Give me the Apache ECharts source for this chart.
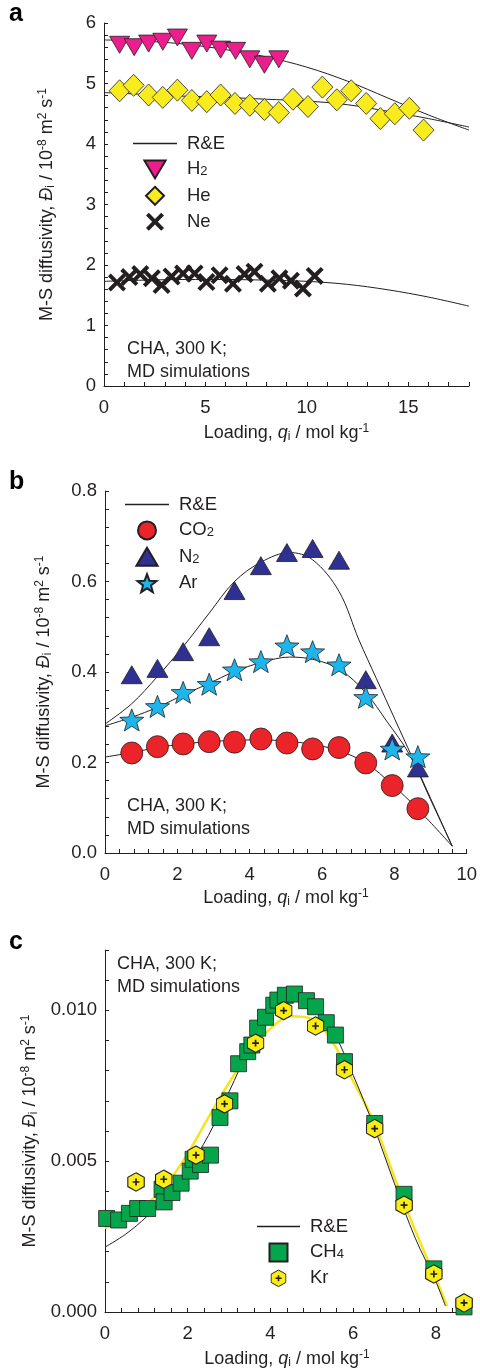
<!DOCTYPE html>
<html><head><meta charset="utf-8">
<script src="https://cdn.jsdelivr.net/npm/echarts@6/dist/echarts.min.js"></script>
<style>html,body{margin:0;padding:0;background:#fff}#c{width:480px;height:1370px}</style>
</head><body><div id="c"></div>
<script>
// ---------- Panel a data ----------
const aH2X = [0.77,1.49,2.20,2.90,3.62,4.33,5.07,5.75,6.49,7.19,7.91,8.62];
const aH2Y = [5.64,5.60,5.66,5.69,5.76,5.54,5.66,5.56,5.54,5.40,5.31,5.40];
const aHeX = [0.77,1.46,2.20,2.90,3.62,4.33,5.07,5.75,6.46,7.19,7.91,8.62,9.32,10.06,10.77,11.48,12.19,12.93,13.63,14.34,15.06,15.76];
const aHeY = [4.88,4.97,4.81,4.77,4.89,4.72,4.70,4.81,4.67,4.64,4.57,4.52,4.74,4.62,4.94,4.73,4.88,4.67,4.42,4.50,4.59,4.23];
const aNeX = [0.64,1.25,1.79,2.36,2.84,3.33,3.90,4.47,5.05,5.70,6.36,6.93,7.42,8.08,8.65,9.22,9.81,10.39];
const aNeY = [1.71,1.80,1.85,1.78,1.67,1.81,1.86,1.86,1.72,1.83,1.69,1.85,1.89,1.69,1.78,1.74,1.61,1.82];
const aFitX = [0,2,4,6,8,10,12,14,16,18];
const aFitH2 = [5.72,5.70,5.65,5.56,5.44,5.27,5.04,4.76,4.48,4.23];
const aFitHe = [4.85,4.82,4.79,4.77,4.74,4.71,4.65,4.54,4.42,4.28];
const aFitNe = [1.73,1.75,1.76,1.76,1.75,1.73,1.68,1.59,1.47,1.32];
const aXTicks = {min:0,max:18,step:1,labelStep:5,dec:0};
const aYTicks = {min:0,max:6,step:0.2,labelStep:1,dec:0};

// ---------- Panel b data ----------
const bX = [0.74,1.45,2.16,2.88,3.58,4.31,5.03,5.74,6.47,7.21,7.94,8.65];
const bCO2 = [0.221,0.235,0.241,0.246,0.245,0.252,0.243,0.230,0.233,0.199,0.149,0.098];
const bN2 = [0.394,0.408,0.445,0.478,0.580,0.635,0.664,0.673,0.647,0.383,0.243,0.188];
const bAr = [0.294,0.324,0.355,0.373,0.405,0.423,0.458,0.445,0.416,0.344,0.230,0.213];
const bFitN2X = [0,0.74,1.45,2.16,2.88,3.58,4.32,5.1,5.74,6.47,7.02,7.5,8,8.5,9,9.6];
const bFitN2Y = [0.285,0.33,0.39,0.456,0.53,0.60,0.643,0.664,0.648,0.578,0.471,0.386,0.298,0.21,0.121,0.015];
const bFitArX = [0,0.74,1.45,2.16,2.88,3.58,4.32,5.1,5.8,6.5,7.2,7.8,8.4,9.0,9.6];
const bFitArY = [0.281,0.30,0.322,0.349,0.375,0.401,0.421,0.433,0.427,0.405,0.355,0.29,0.22,0.118,0.015];
const bFitCO2X = [0,0.74,1.45,2.16,2.88,3.58,4.32,5.03,5.74,6.47,7.21,7.94,8.65,9.6];
const bFitCO2Y = [0.212,0.222,0.233,0.241,0.246,0.249,0.250,0.247,0.240,0.226,0.199,0.151,0.097,0.015];
const bXTicks = {min:0,max:10,step:0.4,labelStep:2,dec:0};
const bYTicks = {min:0,max:0.8,step:0.04,labelStep:0.2,dec:1};

// ---------- Panel c data ----------
const cCH4X = [0.04,0.33,0.59,0.79,1.03,1.38,1.43,1.62,1.84,2.06,2.13,2.31,2.55,2.78,3.02,3.23,3.45,3.55,3.69,3.88,4.08,4.18,4.36,4.58,4.87,5.09,5.35,5.57,5.79,6.52,7.23,7.95,8.68];
const cCH4Y = [0.00310,0.00305,0.00327,0.00343,0.00343,0.00407,0.00365,0.00396,0.00427,0.00467,0.00506,0.00489,0.00520,0.00645,0.00700,0.00823,0.00863,0.00885,0.00941,0.00977,0.01017,0.01034,0.01050,0.01054,0.01032,0.01012,0.00959,0.00918,0.00830,0.00625,0.00390,0.00143,0.00017];
const cKrX = [0.75,1.42,2.20,2.89,3.64,4.32,5.09,5.79,6.52,7.23,7.95,8.68];
const cKrY = [0.00431,0.00440,0.00520,0.00690,0.00891,0.00999,0.00948,0.00803,0.00608,0.00354,0.00126,0.00030];
const cFitX = [0,0.5,1,1.5,2,2.5,3,3.5,4,4.5,5,5.5,6,6.5,7,7.5,8];
const cFitCH4 = [0.00215,0.00258,0.00315,0.00385,0.00475,0.00585,0.00730,0.00875,0.00985,0.01045,0.01025,0.00935,0.00785,0.00615,0.00425,0.00245,0.00100];
const cFitKr = [0.00278,0.00308,0.00355,0.00425,0.00525,0.00645,0.00760,0.00860,0.00940,0.00980,0.00972,0.00895,0.00765,0.00630,0.00445,0.00270,0.00110];
const cFitEndX = [8.23,8.27];
const cFitEndY = [0.00020,0.00020];
const cXTicks = {min:0,max:8.8,step:0.4,labelStep:2,dec:0};
const cYTicks = {min:0,max:0.012,step:0.001,labelStep:0.005,dec:3};

// ---------- styling ----------
const ink = '#231f20';
const FF = '"Liberation Sans", Arial, Helvetica, sans-serif';
const pairs = (xs, ys) => xs.map((x, i) => [x, ys[i]]);

const crossPath = 'path://M0,2.5 L2.5,0 L8,5.5 L13.5,0 L16,2.5 L10.5,8 L16,13.5 L13.5,16 L8,10.5 L2.5,16 L0,13.5 L5.5,8 Z';
const starPath = 'path://M12,0 L14.94,7.95 L23.41,8.29 L16.76,13.55 L19.05,21.71 L12,17 L4.95,21.71 L7.24,13.55 L0.59,8.29 L9.06,7.95 Z';
const triDown = 'path://M0,0 L20,0 L10,17 Z';
const triUp = 'path://M10,0 L20,17 L0,17 Z';
const diamondPath = 'path://M10,0 L20,10 L10,20 L0,10 Z';
const circlePath = 'path://M10,0 A10,10 0 1,1 9.99,0 Z';
const squarePath = 'path://M0,0 L16,0 L16,16 L0,16 Z';
const linePath = 'path://M0,0 L44,0 L44,1.3 L0,1.3 Z';
const krSvg = "<svg xmlns='http://www.w3.org/2000/svg' width='36' height='40' viewBox='0 0 18 20'><polygon points='9,0.8 17.2,5.4 17.2,14.6 9,19.2 0.8,14.6 0.8,5.4' fill='#f9ed13' stroke='#231f20' stroke-width='1.1'/><path d='M9,6.6V13.4M5.6,10H12.4' stroke='#231f20' stroke-width='1.7'/></svg>";
const krSymbol = 'image://data:image/svg+xml;charset=utf-8,' + encodeURIComponent(krSvg);

const richName = {
  it: {fontStyle:'italic', fontSize:18, lineHeight:20, fontFamily:FF, color:ink},
  sub: {fontSize:12, lineHeight:12, verticalAlign:'bottom', fontFamily:FF, color:ink},
  sup: {fontSize:12, lineHeight:12, verticalAlign:'top', fontFamily:FF, color:ink}
};
const yName = 'M-S diffusivity, {it|Đ}{sub|i} / 10{sup|-8} m{sup|2} s{sup|-1}';
const xName = 'Loading, {it|q}{sub|i} / mol kg{sup|-1}';

function fmt(t) {
  return v => {
    const r = v / t.labelStep;
    return Math.abs(r - Math.round(r)) < 1e-6 ? (Math.round(r) * t.labelStep).toFixed(t.dec) : '';
  };
}
function xAxis(gi, t, gap) {
  return {
    type:'value', gridIndex:gi, min:t.min, max:t.max, interval:t.step,
    splitLine:{show:false},
    axisLine:{lineStyle:{color:ink, width:1}},
    axisTick:{inside:true, length:4, lineStyle:{color:ink}},
    axisLabel:{formatter:fmt(t), color:ink, fontSize:18.5, fontFamily:FF, margin:12, showMinLabel:true, showMaxLabel:true},
    name:xName, nameLocation:'middle', nameGap:gap,
    nameTextStyle:{fontSize:18, color:ink, fontFamily:FF, lineHeight:20, rich:richName}
  };
}
function yAxis(gi, t, gap) {
  return {
    type:'value', gridIndex:gi, min:t.min, max:t.max, interval:t.step,
    splitLine:{show:false},
    axisLine:{show:true, lineStyle:{color:ink, width:1}},
    axisTick:{show:true, inside:true, length:4, lineStyle:{color:ink}},
    axisLabel:{formatter:fmt(t), color:ink, fontSize:18.5, fontFamily:FF, margin:8, showMinLabel:true, showMaxLabel:true},
    name:yName, nameLocation:'middle', nameGap:gap, nameRotate:90,
    nameTextStyle:{fontSize:18, color:ink, fontFamily:FF, lineHeight:20, rich:richName}
  };
}
function fit(name, gi, data, color, width, z) {
  return {type:'line', name:name, xAxisIndex:gi, yAxisIndex:gi, data:data, smooth:0.35,
    symbol:'none', lineStyle:{color:color, width:width}, itemStyle:{color:color}, z:z||2, silent:true};
}
function pts(name, gi, data, symbol, size, color, extra) {
  return Object.assign({type:'scatter', name:name, xAxisIndex:gi, yAxisIndex:gi, data:data,
    symbol:symbol, symbolSize:size, clip:false, z:5,
    itemStyle:{color:color, borderColor:ink, borderWidth:0.8, opacity:1}}, extra||{});
}
const legendText = {
  color:ink, fontSize:18.5, fontFamily:FF, lineHeight:18, padding:[0,0,0,5],
  rich:{n:{fontSize:18.5, lineHeight:18, fontFamily:FF, color:ink}, s:{fontSize:13, lineHeight:10, verticalAlign:'bottom', fontFamily:FF, color:ink}}
};
const legendFmt = name => {
  const m = {H2:'{n|H}{s|2}', CO2:'{n|CO}{s|2}', N2:'{n|N}{s|2}', CH4:'{n|CH}{s|4}'};
  return m[name] || name;
};
function legend(left, top, w, items) {
  return {orient:'vertical', left:left, top:top, itemWidth:w, itemHeight:18, itemGap:6.4,
    symbolKeepAspect:true,
    data:items.map(d => ({name:d[0], icon:d[1]})), textStyle:legendText, formatter:legendFmt, selectedMode:false, padding:0};
}
const annot = (x, y) => ({type:'text', left:x, top:y, style:{text:'CHA, 300 K;\nMD simulations', fontSize:18, lineHeight:23, fontFamily:FF, fill:ink}});
const panelLabel = (t, y) => ({type:'text', left:9, top:y, style:{text:t, fontSize:25, fontWeight:'bold', fontFamily:FF, fill:'#000'}});

const option = {
  animation:false,
  backgroundColor:'#fff',
  grid:[
    {left:104, top:23, width:365, height:363},
    {left:105, top:491, width:363, height:362},
    {left:105, top:950, width:364, height:363}
  ],
  xAxis:[xAxis(0, aXTicks, 37), xAxis(1, bXTicks, 35), xAxis(2, cXTicks, 37)],
  yAxis:[yAxis(0, aYTicks, 47), yAxis(1, bYTicks, 51), yAxis(2, cYTicks, 53)],
  legend:[
    legend(133, 134, 44, [['R&E',linePath],['H2',triDown],['He',diamondPath],['Ne',crossPath]]),
    legend(125, 495, 44, [['R&E',linePath],['CO2',circlePath],['N2',triUp],['Ar',starPath]]),
    legend(257, 1217, 43, [['R&E',linePath],['CH4',squarePath],['Kr',krSymbol]])
  ],
  graphic:[
    panelLabel('a', 2), panelLabel('b', 470), panelLabel('c', 930),
    annot(127, 338), annot(127, 795), annot(117, 953)
  ],
  series:[
    // panel a
    fit('R&E', 0, pairs(aFitX, aFitH2), ink, 1),
    fit('R&E', 0, pairs(aFitX, aFitHe), ink, 1),
    fit('R&E', 0, pairs(aFitX, aFitNe), ink, 1),
    pts('H2', 0, pairs(aH2X, aH2Y), triDown, [20,17], '#ec1d8c'),
    pts('He', 0, pairs(aHeX, aHeY), diamondPath, [21,22], '#f8ec1f'),
    pts('Ne', 0, pairs(aNeX, aNeY), crossPath, [18,18], ink, {itemStyle:{color:ink, borderWidth:0, opacity:1}}),
    // panel b
    fit('R&E', 1, pairs(bFitN2X, bFitN2Y), ink, 1),
    fit('R&E', 1, pairs(bFitArX, bFitArY), ink, 1),
    fit('R&E', 1, pairs(bFitCO2X, bFitCO2Y), ink, 1),
    pts('CO2', 1, pairs(bX, bCO2), circlePath, [22,22], '#ea2428'),
    pts('N2', 1, pairs(bX, bN2), triUp, [21,18], '#2e3191'),
    pts('Ar', 1, pairs(bX, bAr), starPath, [24,22], '#1cb6ec'),
    // panel c
    fit('R&E Kr', 2, pairs(cFitX, cFitKr).concat([[cFitEndX[1], cFitEndY[1]]]), '#f5e51a', 2.5, 2),
    fit('R&E', 2, pairs(cFitX, cFitCH4).concat([[cFitEndX[0], cFitEndY[0]]]), ink, 1, 3),
    pts('CH4', 2, pairs(cCH4X, cCH4Y), squarePath, [16,16], '#05a64b'),
    pts('Kr', 2, pairs(cKrX, cKrY), krSymbol, [18,20], '#f9ed13', {z:6})
  ]
};
const chart = echarts.init(document.getElementById('c'), null, {renderer:'canvas'});
chart.setOption(option);
</script></body></html>
